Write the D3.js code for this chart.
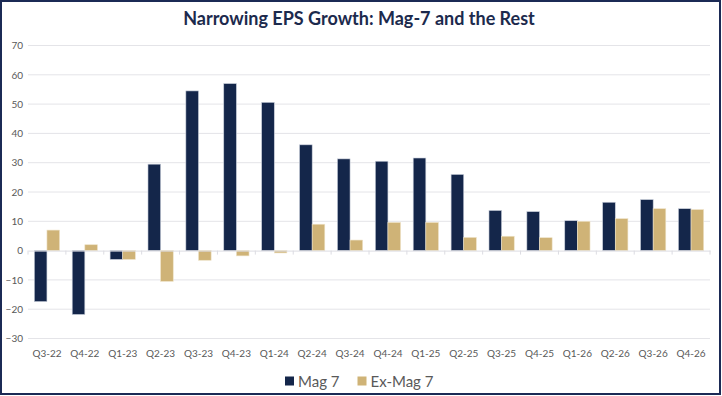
<!DOCTYPE html>
<html>
<head>
<meta charset="utf-8">
<script src="https://cdn.jsdelivr.net/npm/d3@7"></script>
<style>
  body { margin: 0; background: #fff; }
  svg { display: block; font-family: Lato, "Open Sans", sans-serif; }
</style>
</head>
<body>
<svg id="chart"></svg>
<script>
const quarters = ["Q3-22", "Q4-22", "Q1-23", "Q2-23", "Q3-23", "Q4-23", "Q1-24", "Q2-24", "Q3-24",
    "Q4-24", "Q1-25", "Q2-25", "Q3-25", "Q4-25", "Q1-26", "Q2-26", "Q3-26", "Q4-26"];
const mag7 = [-17.4, -21.8, -3.0, 29.5, 54.5, 57.0, 50.6, 36.1, 31.3, 30.5, 31.6, 26.0, 13.7, 13.3, 10.2, 16.5, 17.4, 14.3];
const exMag7 = [7.0, 2.0, -3.0, -10.5, -3.3, -1.8, -0.8, 9.0, 3.6, 9.6, 9.6, 4.5, 4.9, 4.4, 10.0, 10.9, 14.3, 14.0];
const yTicks = [-30, -20, -10, 0, 10, 20, 30, 40, 50, 60, 70];
const seriesNames = ["Mag 7", "Ex-Mag 7"];

const width = 722, height = 396;
const margin = { top: 45.5, right: 12, bottom: 57.5, left: 28 };
const colors = { "Mag 7": "#14264a", "Ex-Mag 7": "#cfb377" };

const svg = d3.select("#chart")
    .attr("width", width)
    .attr("height", height);

// outer frame
svg.append("rect")
    .attr("x", 1).attr("y", 1)
    .attr("width", width - 3).attr("height", height - 3)
    .attr("fill", "#fff")
    .attr("stroke", "#1b2a55")
    .attr("stroke-width", 2);

svg.append("text")
    .attr("x", 359)
    .attr("y", 25)
    .attr("text-anchor", "middle")
    .attr("fill", "#1c2a4d")
    .attr("font-size", "18px")
    .attr("font-weight", "bold")
    .text("Narrowing EPS Growth: Mag-7 and the Rest");

const plotW = width - margin.left - margin.right;
const plotH = height - margin.top - margin.bottom;

const x = d3.scaleBand()
    .domain(quarters)
    .range([0, plotW]);

const xInner = d3.scaleBand()
    .domain(seriesNames)
    .range([0, x.bandwidth()])
    .paddingOuter(0.5)
    .paddingInner(0);

const y = d3.scaleLinear()
    .domain([-30, 70])
    .range([plotH, 0]);

const g = svg.append("g")
    .attr("transform", `translate(${margin.left},${margin.top})`);

// gridlines
g.append("g")
    .selectAll("line")
    .data(yTicks.filter(d => d !== 0))
    .join("line")
    .attr("x1", 0).attr("x2", plotW)
    .attr("y1", d => y(d)).attr("y2", d => y(d))
    .attr("stroke", "#e4e4e8")
    .attr("stroke-width", 1);

// y axis labels
const yAxis = g.append("g")
    .call(d3.axisLeft(y).tickValues(yTicks).tickSize(0).tickPadding(5));
yAxis.select(".domain").remove();
yAxis.selectAll("text")
    .attr("fill", "#595959")
    .attr("font-size", "10px")
    .attr("font-family", "Lato, sans-serif");

const rows = quarters.map((q, i) => ({ q, values: [
    { name: "Mag 7", v: mag7[i] },
    { name: "Ex-Mag 7", v: exMag7[i] }
] }));

g.append("g")
    .selectAll("g")
    .data(rows)
    .join("g")
    .attr("transform", d => `translate(${x(d.q)},0)`)
    .selectAll("rect")
    .data(d => d.values)
    .join("rect")
    .attr("x", d => xInner(d.name))
    .attr("width", xInner.bandwidth())
    .attr("y", d => y(Math.max(0, d.v)))
    .attr("height", d => Math.abs(y(d.v) - y(0)))
    .attr("fill", d => colors[d.name])
    .attr("stroke", d => d.name === "Mag 7" ? "#c9cfdb" : "#eee3c8")
    .attr("stroke-width", 0.6);

// zero axis with category ticks
const xAxis = g.append("g")
    .attr("transform", `translate(0,${y(0)})`)
    .call(d3.axisBottom(x).tickSize(0).tickFormat(""));
xAxis.select(".domain").attr("stroke", "#dcdce2");
xAxis.append("g")
    .selectAll("line")
    .data(d3.range(quarters.length + 1))
    .join("line")
    .attr("x1", i => i * x.step()).attr("x2", i => i * x.step())
    .attr("y1", 0).attr("y2", 4)
    .attr("stroke", "#dcdce2");

// category labels along bottom
g.append("g")
    .selectAll("text")
    .data(quarters)
    .join("text")
    .attr("x", d => x(d) + x.bandwidth() / 2)
    .attr("y", plotH + 18)
    .attr("text-anchor", "middle")
    .attr("fill", "#595959")
    .attr("font-size", "10px")
    .text(d => d);

// legend
const legend = svg.append("g")
    .attr("transform", "translate(285,381)");
const legendX = [0, 72.5];
legend.selectAll("g")
    .data(seriesNames)
    .join("g")
    .attr("transform", (d, i) => `translate(${legendX[i]},0)`)
    .each(function (d) {
        const item = d3.select(this);
        item.append("rect")
            .attr("x", 0).attr("y", -4.5)
            .attr("width", 9).attr("height", 9)
            .attr("fill", colors[d]);
        item.append("text")
            .attr("x", 13)
            .attr("y", 5.5)
            .attr("fill", "#595959")
            .attr("font-size", "15px")
            .text(d);
    });
</script>
</body>
</html>
